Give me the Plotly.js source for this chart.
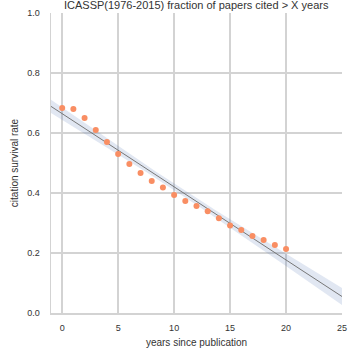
<!DOCTYPE html>
<html><head><meta charset="utf-8">
<script src="https://cdn.plot.ly/plotly-3.0.1.min.js"></script>
<style>html,body{margin:0;padding:0;background:#fff}#chart{width:360px;height:360px}</style>
</head><body><div id="chart"></div>
<script>
const years = [0,1,2,3,4,5,6,7,8,9,10,11,12,13,14,15,16,17,18,19,20];
const survival = [0.683,0.680,0.650,0.610,0.570,0.530,0.497,0.467,0.440,0.418,0.393,0.373,0.357,0.339,0.316,0.292,0.277,0.257,0.243,0.227,0.213];
const xTicks = [0,5,10,15,20,25];
const yTicks = [0.0,0.2,0.4,0.6,0.8,1.0];

// least squares fit with 95% CI of mean prediction
const n = years.length;
const mx = years.reduce((a,b)=>a+b,0)/n;
const my = survival.reduce((a,b)=>a+b,0)/n;
let sxx=0, sxy=0;
for(let i=0;i<n;i++){sxx+=(years[i]-mx)**2; sxy+=(years[i]-mx)*(survival[i]-my);}
const slope = sxy/sxx, icpt = my - slope*mx;
let sse=0; for(let i=0;i<n;i++){sse+=(survival[i]-(icpt+slope*years[i]))**2;}
const s = Math.sqrt(sse/(n-2));
const fx=[], fy=[], lo=[], hi=[];
for(let k=0;k<=100;k++){
  const x = -1 + 26*k/100;
  const y = icpt + slope*x;
  const se = s*Math.sqrt(1/n + (x-mx)**2/sxx)*2.09;
  fx.push(x); fy.push(y); lo.push(y-se); hi.push(y+se);
}

const traces = [
  {x: fx, y: lo, mode:'lines', line:{width:0}, hoverinfo:'skip', showlegend:false},
  {x: fx, y: hi, mode:'lines', line:{width:0}, fill:'tonexty', fillcolor:'rgba(76,114,176,0.17)', hoverinfo:'skip', showlegend:false},
  {x: fx, y: fy, mode:'lines', line:{color:'#777777', width:1}, showlegend:false},
  {x: years, y: survival, mode:'markers', marker:{color:'#f98e63', size:6}, showlegend:false}
];

const layout = {
  width:360, height:360,
  margin:{l:51, r:18, t:12.5, b:47},
  paper_bgcolor:'#fff', plot_bgcolor:'#fff',
  font:{family:'Liberation Sans, Arial, sans-serif', size:9, color:'#333'},
  title:{text:'ICASSP(1976-2015) fraction of papers cited > X years', font:{size:11, color:'#333'}, x:0.545, xanchor:'center', y:1-5/360, yref:'container', yanchor:'middle'},
  xaxis:{range:[-1,25], tickvals:xTicks, ticktext:xTicks.map(String), showgrid:true, gridcolor:'#d3d3d3', gridwidth:1.5, zeroline:false,
    showline:true, linecolor:'#d3d3d3', linewidth:1.5, ticks:'', ticklen:0, ticklabelstandoff:6, tickfont:{size:9,color:'#333'},
    title:{text:'years since publication', font:{size:10,color:'#333'}, standoff:6}},
  yaxis:{range:[0,1], tickvals:yTicks, ticktext:yTicks.map(v=>v.toFixed(1)), showgrid:true, gridcolor:'#d3d3d3', gridwidth:1.5, zeroline:false,
    showline:true, linecolor:'#d3d3d3', linewidth:1.5, ticks:'', ticklabelstandoff:8, tickfont:{size:9,color:'#333'},
    title:{text:'citation survival rate', font:{size:10,color:'#333'}, standoff:6}}
};
Plotly.newPlot('chart', traces, layout, {displayModeBar:false, staticPlot:true});
</script></body></html>
